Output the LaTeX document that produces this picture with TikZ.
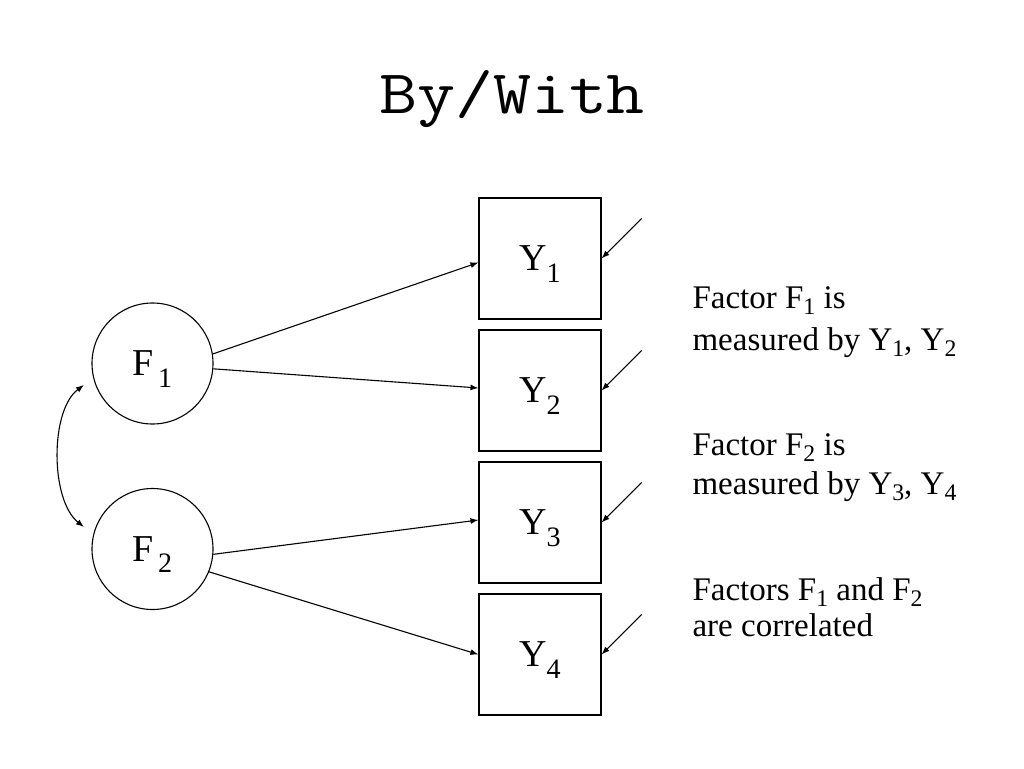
\documentclass[tikz,border=0pt]{standalone}
\usepackage{fontspec}
\setmainfont{Liberation Serif}
\usetikzlibrary{arrows.meta}
\newcommand{\lowsub}[1]{\raisebox{-0.2em}{\scalebox{0.72}{#1}}}
\newcommand{\nsub}[1]{\smash{\raisebox{-0.3em}{\scalebox{0.74}{#1}}}}
\begin{document}
\begin{tikzpicture}[x=1pt,y=-1pt,
  line width=1.1pt,
  arr/.style={-{Latex[length=8pt,width=6pt]}},
  factor/.style={circle,draw,minimum size=121pt,inner sep=0pt,font=\fontsize{38}{38}\selectfont},
  indic/.style={rectangle,draw,minimum width=122pt,minimum height=121pt,inner sep=0pt,font=\fontsize{38}{38}\selectfont},
  note/.style={anchor=base west,inner sep=0pt,font=\fontsize{33}{40}\selectfont}]
\useasboundingbox (0,0) rectangle (1024,768);
\node[anchor=base,inner sep=0pt] (title) at (512,113) {\fontsize{62}{62}\selectfont\ttfamily\scalebox{1.19}[1]{By/With}};
\node[factor] (F1) at (152.5,363.5) {F\kern4pt\nsub{1}};
\node[factor] (F2) at (152.5,549) {F\kern4pt\nsub{2}};
\node[indic] (Y1) at (540,258.5) {Y\nsub{1}};
\node[indic] (Y2) at (540,390.5) {Y\nsub{2}};
\node[indic] (Y3) at (540,522.5) {Y\nsub{3}};
\node[indic] (Y4) at (540,654.5) {Y\nsub{4}};
\foreach \y in {Y1,Y2,Y3,Y4}{
  \coordinate (e\y) at ([xshift=40pt,yshift=40pt]\y.east);
  \draw[arr] (e\y) -- (\y.east);
}
\draw[arr] (F1.9) -- ([yshift=-4pt]Y1.west);
\draw[arr] (F1.-5) -- ([yshift=2.5pt]Y2.west);
\draw[arr] (F2.-5) -- ([yshift=2.5pt]Y3.west);
\draw[arr] (F2.-22) -- (Y4.west);
\coordinate (c1) at (84,385);
\coordinate (c2) at (84,527);
\draw[{Latex[length=8pt,width=6pt]}-{Latex[length=8pt,width=6pt]}] (c1) .. controls (50,410) and (50,500) .. (c2);
\node[note] (n1a) at (692,308) {Factor F\lowsub{1} is};
\node[note] (n1b) at (692,350) {measured by Y\lowsub{1}, Y\lowsub{2}};
\node[note] (n2a) at (692,455) {Factor F\lowsub{2} is};
\node[note] (n2b) at (692,494) {measured by Y\lowsub{3}, Y\lowsub{4}};
\node[note] (n3a) at (692,600) {Factors F\lowsub{1} and F\lowsub{2}};
\node[note] (n3b) at (692,636) {are correlated};
\end{tikzpicture}
\end{document}
